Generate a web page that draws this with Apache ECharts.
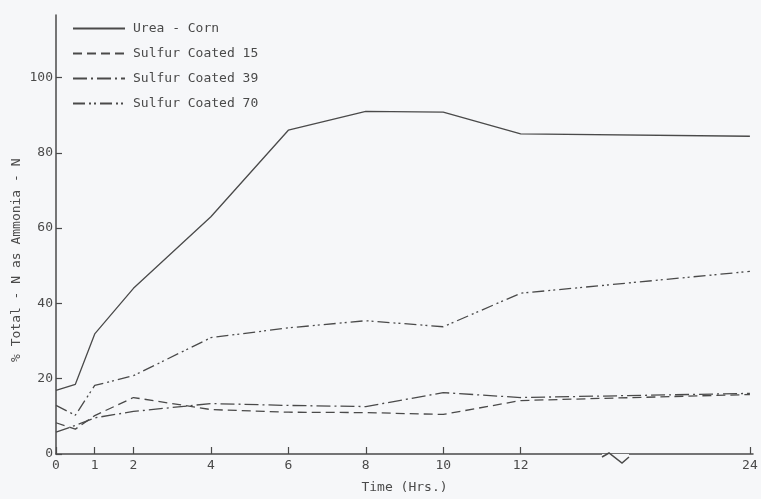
<!DOCTYPE html>
<html>
<head>
<meta charset="utf-8">
<script src="https://cdn.jsdelivr.net/npm/echarts@6/dist/echarts.min.js"></script>
<style>html,body{margin:0;padding:0;background:#f6f7f9;}#c{width:761px;height:499px;}</style>
</head>
<body>
<div id="c"></div>
<script>
// Data (time in hours, % Total-N as Ammonia-N)
var times = [0, 0.5, 1, 2, 4, 6, 8, 10, 12, 24];
var ureaCorn = [16.9, 18.5, 31.9, 44, 63, 86, 91, 90.8, 85, 84.4];
var sulfur15 = [8.3, 6.6, 10.2, 15, 11.8, 11.1, 11, 10.5, 14.2, 15.8];
var sulfur39 = [5.8, 7.6, 9.6, 11.3, 13.4, 12.9, 12.6, 16.3, 15, 16.1];
var sulfur70 = [12.9, 10.3, 18.2, 20.8, 30.9, 33.5, 35.4, 33.8, 42.7, 48.5];
var xTickHours = [0, 1, 2, 4, 6, 8, 10, 12, 24];
var yTicks = [0, 20, 40, 60, 80, 100];
var seriesNames = ['Urea - Corn', 'Sulfur Coated 15', 'Sulfur Coated 39', 'Sulfur Coated 70'];

// broken time axis: hours after 12 are compressed
var BREAK = 12, SQUEEZE = 5.92 / 12;
function pos(t) { return t <= BREAK ? t : BREAK + (t - BREAK) * SQUEEZE; }
function hourOf(p) { return p <= BREAK + 1e-6 ? p : Math.round(BREAK + (p - BREAK) / SQUEEZE); }
function pts(ts, vs) { return ts.map(function (t, i) { return [pos(t), vs[i]]; }); }

var ink = '#4a4a4a';
var bg = '#f6f7f9';
var font = 'DejaVu Sans Mono';
var chart = echarts.init(document.getElementById('c'), null, {renderer: 'canvas'});
var dashStyles = ['solid', [9, 5], [14, 4, 2, 4], [12, 4, 2, 3, 2, 4]];
var data = [pts(times, ureaCorn), pts(times, sulfur15), pts(times, sulfur39), pts(times, sulfur70)];

chart.setOption({
  backgroundColor: bg,
  animation: false,
  textStyle: {fontFamily: font, color: ink},
  grid: {left: 56, right: 8, top: 15, bottom: 42},
  legend: {
    orient: 'vertical', left: 67, top: 17,
    itemWidth: 52, itemHeight: 12, itemGap: 12,
    itemStyle: {color: 'transparent', borderColor: 'transparent', borderWidth: 0},
    textStyle: {fontFamily: font, fontSize: 13, color: ink, padding: [0, 0, 0, 3]},
    data: seriesNames
  },
  xAxis: {
    type: 'value', min: 0, max: 18,
    name: 'Time (Hrs.)', nameLocation: 'middle', nameGap: 27,
    nameTextStyle: {fontFamily: font, fontSize: 13, color: ink},
    axisLine: {lineStyle: {color: ink, width: 1.5}},
    axisTick: {inside: true, length: 7, lineStyle: {color: ink, width: 1.2}, customValues: xTickHours.map(pos)},
    axisLabel: {fontFamily: font, fontSize: 13, color: ink, margin: 5,
      customValues: xTickHours.map(pos),
      formatter: function (v) { return String(hourOf(v)); }},
    splitLine: {show: false}
  },
  yAxis: {
    type: 'value', min: 0, max: 116.6,
    axisLine: {show: true, lineStyle: {color: ink, width: 1.5}},
    axisTick: {show: true, inside: true, length: 6, lineStyle: {color: ink, width: 1.2}, customValues: yTicks},
    axisLabel: {fontFamily: font, fontSize: 13, color: ink, margin: 3, customValues: yTicks},
    splitLine: {show: false}
  },
  graphic: [
    {type: 'text', x: 10, y: 362, rotation: Math.PI / 2, style: {
      text: '% Total - N as Ammonia - N', fontFamily: font, fontSize: 13, fill: ink,
      textAlign: 'left', textVerticalAlign: 'top'}, z: 10},
    {type: 'rect', shape: {x: 602, y: 454, width: 27, height: 7}, style: {fill: bg}, z: 20},
    {type: 'polyline', shape: {points: [[602, 457], [609, 453], [622, 463], [629, 457]]},
      style: {stroke: ink, lineWidth: 1.5, fill: null}, z: 21}
  ],
  series: seriesNames.map(function (n, i) {
    return {
      name: n, type: 'line', data: data[i], symbol: 'none',
      lineStyle: {color: ink, width: 1.3, type: dashStyles[i]},
      itemStyle: {color: ink}
    };
  })
});
</script>
</body>
</html>
